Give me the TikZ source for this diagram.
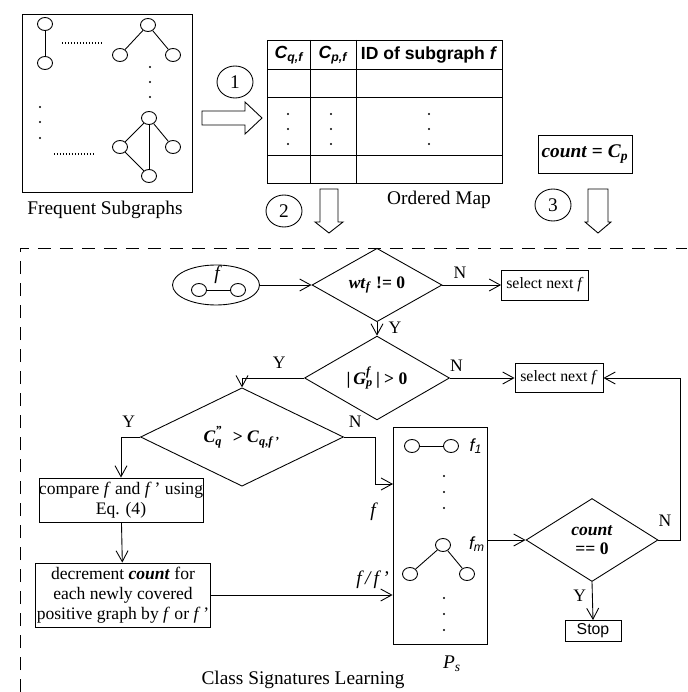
\documentclass[tikz,border=0pt]{standalone}
\usepackage{fontspec}
\usepackage{tikz}
\usetikzlibrary{arrows.meta,shapes.geometric,calc}
\setmainfont{Liberation Serif}
\setsansfont{Liberation Sans}

\begin{document}
\begin{tikzpicture}[x=0.02cm,y=-0.02cm,line width=0.5pt,
    arr/.style={-{Straight Barb[length=2.2mm,width=2.4mm]}},
    vtx/.style={draw,ellipse,minimum width=0.3cm,minimum height=0.26cm,inner sep=0pt},
    num/.style={draw,ellipse,minimum width=0.72cm,minimum height=0.64cm,inner sep=0pt,font=\fontsize{11}{13}\selectfont},
    box/.style={draw,rectangle,inner sep=0pt,align=center,font=\fontsize{10}{11.5}\selectfont},
    dec/.style={draw,diamond,inner sep=0pt,align=center,font=\fontsize{10}{11}\selectfont},
    lab/.style={font=\fontsize{10}{11}\selectfont},
    title/.style={font=\fontsize{11}{13}\selectfont}]
                \useasboundingbox (0,0) rectangle (687,692);

                % Frequent subgraphs
                \draw (22,14) rectangle (192,192);
                \node[title] (fsname) at (105,210) {Frequent Subgraphs};
                \node[vtx] (a1) at (45,24) {};
                \node[vtx] (a2) at (45,63) {};
                \draw (a1) -- (a2);
                \node[vtx] (b1) at (148,25) {};
                \node[vtx] (b2) at (120,55) {};
                \node[vtx] (b3) at (173,55) {};
                \draw (b1) -- (b2);
                \draw (b1) -- (b3);
                \node[vtx] (c1) at (149,118) {};
                \node[vtx] (c2) at (120,147) {};
                \node[vtx] (c3) at (173,147) {};
                \node[vtx] (c4) at (149,176) {};
                \draw (c1) -- (c2);
                \draw (c1) -- (c3);
                \draw (c1) -- (c4);
                \draw (c2) -- (c4);
                \draw[line width=0.8pt,dash pattern=on 0.6pt off 1.1pt] (62,43) -- (103,43);
                \draw[line width=0.8pt,dash pattern=on 0.6pt off 1.1pt] (54,154) -- (93,154);
                \foreach \y in {67,82,97} \fill (150,\y) circle (0.6pt);
                \foreach \y in {107,122,138} \fill (40,\y) circle (0.6pt);

                % Step 1
                \node[num] (s1) at (235,82) {1};
                \draw (202,111) -- (245,111) -- (245,102) -- (262,118) -- (245,134) -- (245,125) -- (202,125) -- cycle;

                % Ordered map
                \draw (267,40) rectangle (502,183);
                \draw (267,69) -- (502,69);
                \draw (267,97) -- (502,97);
                \draw (267,155) -- (502,155);
                \draw (310,40) -- (310,183);
                \draw (356,40) -- (356,183);
                \node[font=\sffamily\bfseries\itshape\fontsize{10}{11}\selectfont] (cqf) at (289,55) {C\textsubscript{q,f}};
                \node[font=\sffamily\bfseries\itshape\fontsize{10}{11}\selectfont] (cpf) at (333,55) {C\textsubscript{p,f}};
                \node[font=\sffamily\bfseries\fontsize{10}{11}\selectfont] (fid) at (429,55) {ID of subgraph \textit{f}};
                \foreach \x in {288,331,429}
                  \foreach \y in {114,129,144} \fill (\x,\y) circle (0.6pt);
                \node[title] (omname) at (439,200) {Ordered Map};

                % Step 2
                \node[num] (s2) at (284,211) {2};
                \draw (320,189) -- (338,189) -- (338,222) -- (343,222) -- (329,233) -- (315,222) -- (320,222) -- cycle;

                % Step 3
                \node[box,minimum width=1.88cm,minimum height=0.76cm,font=\fontsize{11}{13}\selectfont] (cnt) at (585,154) {\textbf{\textit{count} = \textit{C}\textsubscript{\textit{p}}}};
                \node[num] (s3) at (553,205) {3};
                \draw (588,189) -- (608,189) -- (608,222) -- (611,222) -- (598,233) -- (585,222) -- (588,222) -- cycle;

                % Class signatures learning
                \draw[dash pattern=on 0.26cm off 0.18cm] (20,692) -- (20,248) -- (687,248);
                \node[title] (csname) at (303,680) {Class Signatures Learning};

                % Subgraph f
                \node[draw,ellipse,minimum width=1.74cm,minimum height=0.8cm] (fsub) at (216,285) {};
                \node[vtx] (e1) at (199,290) {};
                \node[vtx] (e2) at (238,290) {};
                \draw (e1) -- (e2);
                \node[lab,font=\itshape\fontsize{11}{13}\selectfont] (fname) at (217,275) {f};

                % Decisions and steps
                \node[dec,minimum width=2.6cm,minimum height=1.08cm] (d1) at (377,285) {\textbf{\textit{wt}\textsubscript{\textit{f}} != 0}};
                \node[box,minimum width=1.74cm,minimum height=0.6cm,font=\fontsize{9}{10}\selectfont] (sel1) at (545,285) {select next \textit{f}};
                \node[dec,minimum width=2.9cm,minimum height=1.14cm] (d2) at (377,378) {\textbf{|\,\textit{G}\rlap{\raisebox{1.5pt}{\textsuperscript{\textit{f}}}}\textsubscript{\textit{p}}\,| > 0}};
                \node[box,minimum width=1.76cm,minimum height=0.58cm,font=\fontsize{9}{10}\selectfont] (sel2) at (559,378) {select next \textit{f}};
                \node[dec,minimum width=4.06cm,minimum height=1.12cm] (d3) at (242,437) {\textbf{\textit{C}\rlap{\raisebox{1pt}{\textsuperscript{\textit{''}}}}\textsubscript{\textit{q}}\,\, > \textit{C}\textsubscript{\textit{q},\textit{f}\,'}}};
                \node[box,minimum width=3.26cm,minimum height=0.88cm] (cmp) at (121,500) {compare \textit{f} and \textit{f}\,' using\\Eq. (4)};
                \node[box,minimum width=3.5cm,minimum height=1.28cm] (decr) at (123,595) {decrement \textbf{\textit{count}} for\\each newly covered\\positive graph by \textit{f} or \textit{f}\,'};
                \node[dec,minimum width=2.64cm,minimum height=1.66cm] (d4) at (592,540) {\textbf{\textit{count}}\\\textbf{== 0}};
                \node[box,minimum width=1.12cm,minimum height=0.42cm,font=\sffamily\fontsize{9}{10}\selectfont] (stop) at (593,631) {Stop};

                % Selected set P_s
                \node[draw,rectangle,minimum width=1.88cm,minimum height=4.34cm] (ps) at (440,536) {};
                \node[lab,font=\itshape\fontsize{11}{13}\selectfont] (psname) at (452,664) {P\textsubscript{s}};
                \node[vtx] (g1) at (412,446) {};
                \node[vtx] (g2) at (451,446) {};
                \draw (g1) -- (g2);
                \node[font=\sffamily\itshape\fontsize{10}{11}\selectfont] (f1) at (476,446) {f\textsubscript{1}};
                \node[vtx] (h1) at (443,545) {};
                \node[vtx] (h2) at (410,574) {};
                \node[vtx] (h3) at (467,574) {};
                \draw (h1) -- (h2);
                \draw (h1) -- (h3);
                \node[font=\sffamily\itshape\fontsize{10}{11}\selectfont] (fm) at (477,544) {f\textsubscript{m}};
                \foreach \y in {476,492,508,598,614,630} \fill (444,\y) circle (0.6pt);

                % Connectors
                \coordinate (psin) at (393,484);
                \node[lab,font=\itshape\fontsize{11}{13}\selectfont] (fin) at (373,512) {f};
                \draw[arr] (fsub) -- (d1);
                \draw[arr] (d1) -- node[lab,above,pos=0.3] {N} (sel1);
                \draw[arr] (d1) -- node[lab,right=3pt,pos=0.4] {Y} (d2);
                \draw[arr] (d2) -- node[lab,above,pos=0.1] {N} (sel2);
                \draw[arr] (d2.west) -| node[lab,above=2pt,pos=0.2] {Y} (d3.north);
                \draw[arr] (d3.west) -| node[lab,above=2pt,pos=0.3] {Y} (cmp.north);
                \draw[arr] (d3.east) -- node[lab,above=2pt,pos=0.35] {N} ++(32,0) |- (psin);
                \draw[arr] (cmp) -- (decr);
                \draw[arr] (decr.east) -- node[lab,above,pos=0.89,font=\itshape\fontsize{11}{13}\selectfont] {f\,/\,f\,'} (decr.east -| ps.west);
                \draw[arr] (ps.east |- d4.west) -- (d4.west);
                \draw[arr] (d4.east) -- node[lab,above=4pt,pos=0.3] {N} ++(22,0) |- (sel2.east);
                \draw[arr] (d4.south) -- node[lab,left,pos=0.35] {Y} (stop.north);
            \end{tikzpicture}
\end{document}
